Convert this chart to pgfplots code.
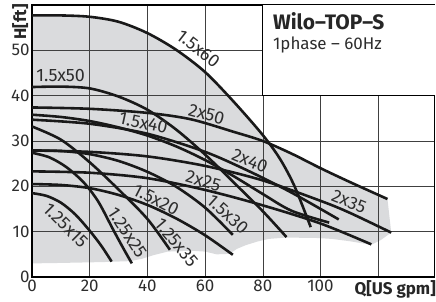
\documentclass[border=0pt]{standalone}
\usepackage{fontspec}
\setmainfont{Fira Sans}
\usepackage{pgfplots}
\pgfplotsset{compat=1.18}
\definecolor{envgray}{RGB}{218,219,221}
\definecolor{lbl}{RGB}{45,45,45}
\definecolor{crv}{RGB}{25,25,25}
\newcommand{\tf}{\fontsize{17}{19}\selectfont}
\newcommand{\lf}{\fontsize{18}{20}\selectfont}
\tikzset{
  curve/.style={crv, line width=2.6pt, smooth, tension=0.5},
  lab/.style={font=\lf, text=lbl, inner sep=0pt},
}
\begin{document}
\begin{tikzpicture}
\begin{axis}[
  set layers,
  scale only axis, width=402.5bp, height=272bp,
  xmin=0, xmax=139.5, ymin=0, ymax=60,
  clip=false,
  xtick={0,20,...,120}, xticklabels={0,20,40,60,80,100,},
  ytick={0,10,...,50},
  /pgf/number format/assume math mode=true,
  tick label style={font=\tf, text=lbl},
  xticklabel style={yshift=1bp},
  yticklabel style={xshift=1bp},
  major tick length=0pt,
  grid=major,
  major grid style={black!75, line width=0.6pt},
  axis line style={black, line width=1.1pt},
]
% envelope
\addplot[fill=envgray, draw=none, on layer=axis background] coordinates {
(0,57.7)(10,57.7)(20,57.4)(25,57.0)(30,56.3)(35,55.2)(40,53.8)(45,52.1)(50,50.1)(55,47.8)(60,45.2)(66,41.5)(72,37.1)(76,34.2)(80,31.3)(83.5,28.6)
(90,27.2)(100,24)(110,21)(117,19)(123.2,17.2)
(124.5,9.8)(121,8.2)(117.6,7.1)(110,7.9)(104,8.4)(99,8.6)(88,8.7)(82,8.4)(78,7.8)(74,7)(71,6.2)(68.5,5.1)(64,5.0)(60,5.6)(55,5.8)(47,5.6)(42,4.8)(38,4.0)(34,3.5)(25,3.3)(10,3.1)(0,3.0)
} -- cycle;
% 1.5x60
\addplot[curve] coordinates {(0,57.7)(10,57.7)(20,57.4)(30,56.3)(40,53.8)(50,50.1)(60,45.2)(70,38.6)(80,31.3)(86,26)(91,20)(96.6,11)};
% 1.5x50
\addplot[curve] coordinates {(0,41.9)(10,42)(20,41.6)(30,39.8)(40,36.9)(50,32.5)(60,27)(70,20.8)(80,14.5)(88.2,8.8)};
% 2x50
\addplot[curve] coordinates {(0,37.4)(20,37.1)(40,36.2)(55,34.8)(70,32)(80,30)(90,27.2)(100,24)(110,21)(123.2,17.2)};
% 1.5x40
\addplot[curve] coordinates {(0,35.8)(10,35.3)(20,34.4)(30,33)(40,31.2)(50,28.8)(60,25.8)(70,22.2)(80,18.3)(90,14.6)(103,12)};
% 2x40
\addplot[curve] coordinates {(0,34.7)(20,33.8)(40,31.6)(60,27.6)(75,23.4)(90,18.6)(106.3,12.7)};
% 2x35
\addplot[curve] coordinates {(0,27.9)(20,27.6)(40,26.6)(60,24.5)(80,21.3)(100,16.8)(110,14.2)(124.5,9.8)};
% 2x25
\addplot[curve] coordinates {(0,23.3)(20,23.0)(40,21.8)(60,19.2)(80,15.8)(100,11.8)(117.6,7.2)};
% 1.5x30
\addplot[curve] coordinates {(0,27.9)(10,27.8)(20,27.1)(30,25.6)(40,23.2)(50,19.9)(60,15.3)(69.6,9.3)};
% 1.5x20
\addplot[curve] coordinates {(0,20.5)(10,20.3)(20,19.6)(30,18.1)(40,15.9)(50,12.9)(60,9.2)(69.6,4.9)};
% 1.25x15
\addplot[curve] coordinates {(0,18.5)(5,17.9)(10,16.4)(15,13.8)(20,10.2)(24,6.9)(27.6,3.4)};
% 1.25x25
\addplot[curve] coordinates {(0,27.4)(6,26.4)(12,24.2)(18,20.8)(23,16.6)(28,10.6)(31.5,6.5)(34.6,3.0)};
% 1.25x35
\addplot[curve] coordinates {(0,33.2)(10,30.3)(20,25.3)(30,19.3)(40,12.8)(47.8,6.0)};
% curve labels
\node[lab, rotate=-38] at (axis cs:57.6,50.4) {1.5x60};
\node[lab] at (axis cs:9.9,44.4) {1.5x50};
\node[lab, rotate=-15] at (axis cs:60.5,35.9) {2x50};
\node[lab, rotate=-12] at (axis cs:38.6,34.0) {1.5x40};
\node[lab, rotate=-22] at (axis cs:75.5,25.6) {2x40};
\node[lab, rotate=-16] at (axis cs:59.4,21.2) {2x25};
\node[lab, rotate=-22] at (axis cs:109.9,16.6) {2x35};
\node[lab, rotate=-27] at (axis cs:43,17.0) {1.5x20};
\node[lab, rotate=-42] at (axis cs:67.8,13.8) {1.5x30};
\node[lab, rotate=-45] at (axis cs:11.6,11.4) {1.25x15};
\node[lab, rotate=-57] at (axis cs:33.0,9.8) {1.25x25};
\node[lab, rotate=-50] at (axis cs:50.0,7.6) {1.25x35};
% title box
\fill[white] (axis cs:80,40) rectangle (axis cs:139.5,60);
\draw[black, line width=1.1pt] (axis cs:80,60) -- (axis cs:80,40) -- (axis cs:139.5,40);
\node[anchor=base west, inner sep=0pt, font=\fontsize{21}{23}\selectfont\bfseries, text=black!85] at (axis cs:83.5,54.5) {Wilo–TOP–S};
\node[anchor=base west, inner sep=0pt, font=\tf, text=lbl] at (axis cs:83.5,50.1) {1phase – 60Hz};
% axis labels
\node[anchor=north east, rotate=90, inner sep=0pt, font=\tf\bfseries, text=black!85] at (axis cs:-6.9,60.2) {H[ft]};
\node[anchor=base east, inner sep=0pt, font=\tf\bfseries, text=black!85] at (axis cs:140,-3.75) {Q[US gpm]};
\coordinate (ll) at (rel axis cs:0,0);
\coordinate (ur) at (rel axis cs:1,1);
\end{axis}
\pgfresetboundingbox
\path[use as bounding box] ([shift={(-32bp,-25bp)}]ll) rectangle ([shift={(1.5bp,5bp)}]ur);
\end{tikzpicture}
\end{document}
